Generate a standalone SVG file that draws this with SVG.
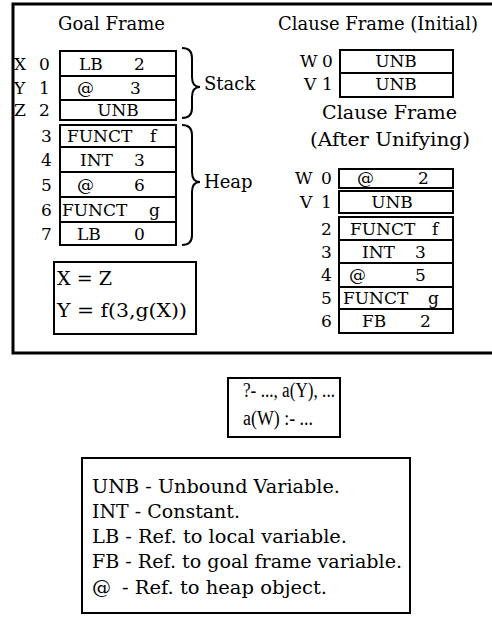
<svg xmlns="http://www.w3.org/2000/svg" width="492" height="623" viewBox="0 0 492 623">
<style>
text{font-family:"DejaVu Serif","Liberation Serif",serif;fill:#000}
.t{font-size:18px}
.c{font-size:17px}
.l{font-size:19px}
.q{font-family:"Liberation Serif","Times New Roman",serif;font-size:20px}
.cell{fill:#fff;stroke:#000;stroke-width:2}
.box{fill:none;stroke:#000;stroke-width:2}
.br{fill:none;stroke:#000;stroke-width:2}
</style>
<rect width="492" height="623" fill="#fff"/>
<g id="outer-frame"><path d="M495,4 L13,4 L13,353 L495,353" fill="none" stroke="#000" stroke-width="3"/></g>

<g id="goal-frame">
<text class="t" x="58" y="30" textLength="107" lengthAdjust="spacingAndGlyphs">Goal Frame</text>
<rect class="cell" x="60" y="51" width="116" height="25"/>
<rect class="cell" x="60" y="76" width="116" height="24"/>
<rect class="cell" x="60" y="100" width="116" height="20"/>
<rect class="cell" x="60" y="125" width="116" height="22"/>
<rect class="cell" x="60" y="147" width="116" height="25"/>
<rect class="cell" x="60" y="172" width="116" height="25"/>
<rect class="cell" x="60" y="197" width="116" height="25"/>
<rect class="cell" x="60" y="222" width="116" height="23"/>
<g class="c">
<text x="14" y="70">X</text><text x="39" y="70">0</text>
<text x="14" y="94">Y</text><text x="39" y="94">1</text>
<text x="14" y="116">Z</text><text x="39" y="116">2</text>
<text x="41" y="142">3</text>
<text x="41" y="166">4</text>
<text x="41" y="191">5</text>
<text x="41" y="216">6</text>
<text x="41" y="240">7</text>
<text x="79" y="70">LB</text><text x="134" y="70">2</text>
<text x="77" y="94">@</text><text x="130" y="94">3</text>
<text x="118" y="116" text-anchor="middle">UNB</text>
<text x="67" y="142">FUNCT</text><text x="150" y="142">f</text>
<text x="80" y="166">INT</text><text x="134" y="166">3</text>
<text x="77" y="191">@</text><text x="134" y="191">6</text>
<text x="62" y="216">FUNCT</text><text x="149" y="216">g</text>
<text x="77" y="240">LB</text><text x="134" y="240">0</text>
</g>
</g>

<g id="stack-brace">
<path class="br" d="M182,48 Q192,48 192,58 L192,77 Q192,87 200,87 Q192,87 192,97 L192,108 Q192,118 182,118"/>
<text class="t" x="204" y="90">Stack</text>
</g>
<g id="heap-brace">
<path class="br" d="M182,125 Q192,125 192,135 L192,172 Q192,182 200,182 Q192,182 192,192 L192,235 Q192,245 182,245"/>
<text class="t" x="204" y="188">Heap</text>
</g>

<g id="equations">
<rect class="box" x="54" y="262" width="142" height="72"/>
<text class="t" x="57" y="285" textLength="55" lengthAdjust="spacingAndGlyphs">X = Z</text>
<text class="t" x="57" y="317" textLength="130" lengthAdjust="spacingAndGlyphs">Y = f(3,g(X))</text>
</g>

<g id="clause-initial">
<text class="t" x="278" y="30" textLength="200" lengthAdjust="spacingAndGlyphs">Clause Frame (Initial)</text>
<rect class="cell" x="340" y="50" width="113" height="23"/>
<rect class="cell" x="340" y="73" width="113" height="24"/>
<g class="c">
<text x="300" y="67">W</text><text x="322" y="67">0</text>
<text x="304" y="90">V</text><text x="322" y="90">1</text>
<text x="396" y="67" text-anchor="middle">UNB</text>
<text x="396" y="90" text-anchor="middle">UNB</text>
</g>
</g>

<g id="clause-after">
<text class="t" x="322" y="119" textLength="135" lengthAdjust="spacingAndGlyphs">Clause Frame</text>
<text class="t" x="310" y="146" textLength="160" lengthAdjust="spacingAndGlyphs">(After Unifying)</text>
<rect class="cell" x="339" y="169" width="114" height="19"/>
<rect class="cell" x="339" y="191" width="114" height="22"/>
<rect class="cell" x="339" y="217" width="114" height="23"/>
<rect class="cell" x="339" y="240" width="114" height="23"/>
<rect class="cell" x="339" y="263" width="114" height="24"/>
<rect class="cell" x="339" y="287" width="114" height="22"/>
<rect class="cell" x="339" y="309" width="114" height="24"/>
<g class="c">
<text x="295" y="184">W</text><text x="321" y="184">0</text>
<text x="300" y="208">V</text><text x="321" y="208">1</text>
<text x="321" y="235">2</text>
<text x="321" y="258">3</text>
<text x="321" y="281">4</text>
<text x="321" y="304">5</text>
<text x="321" y="327">6</text>
<text x="357" y="184">@</text><text x="418" y="184">2</text>
<text x="392" y="208" text-anchor="middle">UNB</text>
<text x="350" y="235">FUNCT</text><text x="432" y="235">f</text>
<text x="362" y="258">INT</text><text x="415" y="258">3</text>
<text x="349" y="281">@</text><text x="415" y="281">5</text>
<text x="343" y="304">FUNCT</text><text x="428" y="304">g</text>
<text x="362" y="327">FB</text><text x="420" y="327">2</text>
</g>
</g>

<g id="query">
<rect class="box" x="228" y="378" width="112" height="59"/>
<text class="q" x="243" y="397" textLength="92" lengthAdjust="spacingAndGlyphs">?- ..., a(Y), ...</text>
<text class="q" x="243" y="425" textLength="70" lengthAdjust="spacingAndGlyphs">a(W) :- ...</text>
</g>

<g id="legend">
<rect class="box" x="82" y="458" width="328" height="155"/>
<text class="l" x="92" y="493" textLength="248" lengthAdjust="spacingAndGlyphs">UNB - Unbound Variable.</text>
<text class="l" x="92" y="518" textLength="148" lengthAdjust="spacingAndGlyphs">INT - Constant.</text>
<text class="l" x="92" y="543" textLength="255" lengthAdjust="spacingAndGlyphs">LB - Ref. to local variable.</text>
<text class="l" x="92" y="568" textLength="310" lengthAdjust="spacingAndGlyphs">FB - Ref. to goal frame variable.</text>
<text class="l" x="92" y="594">@</text>
<text class="l" x="122" y="594" textLength="205" lengthAdjust="spacingAndGlyphs">- Ref. to heap object.</text>
</g>
</svg>
